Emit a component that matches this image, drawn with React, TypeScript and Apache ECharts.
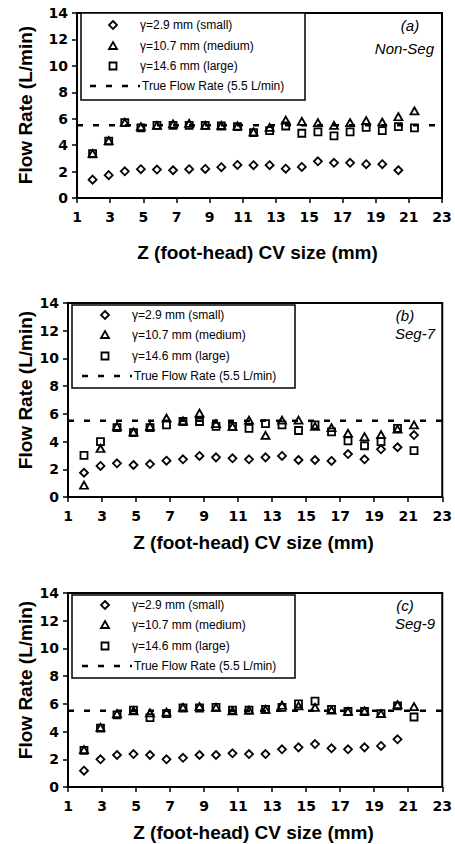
import React, { useEffect, useRef } from "react";
import * as echarts from "echarts";

// CV sizes along Z (mm)
const xCV = [1.94, 2.91, 3.88, 4.85, 5.82, 6.79, 7.76, 8.73, 9.70, 10.67, 11.64, 12.61, 13.58, 14.55, 15.52, 16.49, 17.46, 18.43, 19.40, 20.37, 21.34];
const xTickLabels = [1, 3, 5, 7, 9, 11, 13, 15, 17, 19, 21, 23];
const yTickLabels = [0, 2, 4, 6, 8, 10, 12, 14];

const seriesNames = ["γ=2.9 mm (small)", "γ=10.7 mm (medium)", "γ=14.6 mm (large)"];
const trueRateName = "True Flow Rate (5.5 L/min)";
const trueRate = 5.5;
const panelTags = ["(a)", "(b)", "(c)"];
const panelMethods = ["Non-Seg", "Seg-7", "Seg-9"];
const xTitle = "Z (foot-head) CV size (mm)";
const yTitle = "Flow Rate (L/min)";

// (a) Non-Seg
const aSmall = [1.39, 1.73, 2.02, 2.18, 2.15, 2.1, 2.18, 2.2, 2.33, 2.5, 2.48, 2.48, 2.22, 2.35, 2.78, 2.66, 2.66, 2.56, 2.56, 2.1];
const aMedium = [3.38, 4.34, 5.73, 5.4, 5.5, 5.6, 5.65, 5.5, 5.5, 5.45, 5.0, 5.35, 5.9, 5.8, 5.7, 5.5, 5.7, 5.85, 5.75, 6.15, 6.6];
const aLarge = [3.35, 4.3, 5.7, 5.3, 5.5, 5.5, 5.5, 5.5, 5.45, 5.4, 4.95, 5.1, 5.45, 4.9, 5.0, 4.7, 5.0, 5.35, 5.1, 5.4, 5.3];
// (b) Seg-7
const bSmall = [1.75, 2.24, 2.43, 2.31, 2.38, 2.62, 2.72, 2.96, 2.86, 2.79, 2.72, 2.86, 2.96, 2.67, 2.67, 2.6, 3.1, 2.72, 3.44, 3.59, 4.47];
const bMedium = [0.85, 3.5, 5.1, 4.7, 5.1, 5.7, 5.5, 6.05, 5.3, 5.1, 5.55, 4.45, 5.55, 5.55, 5.1, 5.0, 4.6, 4.35, 4.5, 4.9, 5.2];
const bLarge = [3.0, 4.0, 5.0, 4.65, 5.0, 5.2, 5.45, 5.45, 5.1, 5.1, 4.95, 5.3, 5.2, 4.8, 5.2, 4.7, 4.05, 3.7, 4.0, 4.95, 3.35];
// (c) Seg-9
const cSmall = [1.18, 2.0, 2.31, 2.38, 2.31, 2.0, 2.11, 2.31, 2.31, 2.43, 2.38, 2.38, 2.72, 2.86, 3.1, 2.79, 2.72, 2.86, 2.96, 3.44];
const cMedium = [2.7, 4.3, 5.3, 5.5, 5.35, 5.4, 5.75, 5.8, 5.75, 5.5, 5.55, 5.6, 5.9, 5.85, 5.75, 5.55, 5.45, 5.5, 5.3, 5.95, 5.8];
const cLarge = [2.65, 4.25, 5.2, 5.55, 5.0, 5.3, 5.7, 5.7, 5.75, 5.55, 5.55, 5.6, 5.75, 6.0, 6.2, 5.6, 5.45, 5.45, 5.3, 5.85, 5.05];

const panelData = [
  [aSmall, aMedium, aLarge],
  [bSmall, bMedium, bLarge],
  [cSmall, cMedium, cLarge],
];

const FONT = '"Liberation Sans", Arial, sans-serif';
const TICK_FONT = '"DejaVu Sans", sans-serif';
const symbols = ["diamond", "triangle", "rect"];
const symbolSizes: any[] = [[8, 8], [8, 7], [7, 7]];

const layouts = [
  { left: 77, top: 13, width: 365, height: 185, yTitle: [25, 105], xTitleY: 252,
    legend: { x: 81, y: 13, w: 224, h: 87, symX: 113, textX: 140, dash: [90, 140], rows: [25, 46, 66, 86] },
    tag: [410, 25], method: [434, 48] },
  { left: 68, top: 303, width: 375, height: 194, yTitle: [25, 390], xTitleY: 542,
    legend: { x: 72, y: 305, w: 223, h: 83, symX: 105, textX: 132, dash: [82, 132], rows: [315, 335, 356, 376] },
    tag: [405, 315], method: [435, 333] },
  { left: 68, top: 593, width: 375, height: 194, yTitle: [25, 680], xTitleY: 832,
    legend: { x: 72, y: 595, w: 223, h: 83, symX: 105, textX: 132, dash: [82, 132], rows: [605, 625, 646, 666] },
    tag: [405, 605], method: [435, 623] },
];

function txt(text: string, x: number, y: number, font: string, align = "left", extra: any = {}) {
  return {
    type: "text",
    x, y,
    ...extra,
    style: { text, font, fill: "#000", align, verticalAlign: "middle", textAlign: align, textVerticalAlign: "middle" },
  };
}

function legendGraphics(L: any) {
  const g: any[] = [];
  g.push({ type: "rect", shape: { x: L.x, y: L.y, width: L.w, height: L.h }, style: { fill: "#fff", stroke: "#000", lineWidth: 1.5 }, z: 10 });
  const sx = L.symX;
  const [r0, r1, r2, r3] = L.rows;
  const st = { fill: "none", stroke: "#000", lineWidth: 1.8 };
  g.push({ type: "polygon", shape: { points: [[sx, r0 - 4], [sx + 4, r0], [sx, r0 + 4], [sx - 4, r0]] }, style: st, z: 11 });
  g.push({ type: "polygon", shape: { points: [[sx, r1 - 4], [sx + 4, r1 + 3], [sx - 4, r1 + 3]] }, style: st, z: 11 });
  g.push({ type: "rect", shape: { x: sx - 3.5, y: r2 - 3.5, width: 7, height: 7 }, style: st, z: 11 });
  g.push({ type: "line", shape: { x1: L.dash[0], y1: r3, x2: L.dash[1], y2: r3 }, style: { stroke: "#000", lineWidth: 2.5, lineDash: [6, 10] }, z: 11 });
  const f = `12px ${FONT}`;
  g.push({ ...txt(seriesNames[0], L.textX, r0, f), z: 11 });
  g.push({ ...txt(seriesNames[1], L.textX, r1, f), z: 11 });
  g.push({ ...txt(seriesNames[2], L.textX, r2, f), z: 11 });
  g.push({ ...txt(trueRateName, L.textX + 2, r3, f), z: 11 });
  return g;
}

export default function App() {
  const ref = useRef<HTMLDivElement>(null);
  useEffect(() => {
    if (!ref.current) return;
    const chart = echarts.init(ref.current, undefined, { renderer: "svg" });
    const grids: any[] = [];
    const xAxes: any[] = [];
    const yAxes: any[] = [];
    const series: any[] = [];
    let graphics: any[] = [];
    layouts.forEach((lay, p) => {
      grids.push({ left: lay.left, top: lay.top, width: lay.width, height: lay.height, show: true, borderColor: "#000", borderWidth: 2, backgroundColor: "transparent" });
      xAxes.push({
        type: "value", gridIndex: p, min: xTickLabels[0], max: xTickLabels[xTickLabels.length - 1],
        axisLine: { onZero: false, lineStyle: { color: "#000", width: 2 } },
        axisTick: { show: true, length: 5, customValues: xTickLabels, lineStyle: { color: "#000", width: 1.5 } },
        axisLabel: { customValues: xTickLabels, fontFamily: TICK_FONT, fontWeight: "bold", fontSize: 14, color: "#000", margin: 12 },
        splitLine: { show: false },
      });
      yAxes.push({
        type: "value", gridIndex: p, min: yTickLabels[0], max: yTickLabels[yTickLabels.length - 1], interval: 2,
        axisLine: { show: true, onZero: false, lineStyle: { color: "#000", width: 2 } },
        axisTick: { show: true, length: 5, lineStyle: { color: "#000", width: 1.5 } },
        axisLabel: { fontFamily: TICK_FONT, fontWeight: "bold", fontSize: 14, color: "#000", margin: 9 },
        splitLine: { show: false },
      });
      panelData[p].forEach((arr, s) => {
        series.push({
          type: "scatter", name: seriesNames[s], xAxisIndex: p, yAxisIndex: p,
          symbol: symbols[s], symbolSize: symbolSizes[s],
          itemStyle: { color: "rgba(0,0,0,0)", borderColor: "#000", borderWidth: 1.8, opacity: 1 },
          data: arr.map((v, i) => [xCV[i], v]),
          z: 3,
        });
      });
      series.push({
        type: "line", name: trueRateName, xAxisIndex: p, yAxisIndex: p, symbol: "none",
        lineStyle: { color: "#000", width: 2.5, type: [6, 10] },
        data: [[xTickLabels[0], trueRate], [xTickLabels[xTickLabels.length - 1], trueRate]],
        z: 2,
      });
      graphics = graphics.concat(legendGraphics(lay.legend));
      graphics.push(txt(panelTags[p], lay.tag[0], lay.tag[1], `italic 15px ${FONT}`, "center"));
      graphics.push(txt(panelMethods[p], lay.method[0], lay.method[1], `italic 15px ${FONT}`, "right"));
      graphics.push(txt(xTitle, (lay.left + lay.left + lay.width) / 2 - 2, lay.xTitleY, `bold 19px ${FONT}`, "center"));
      graphics.push(txt(yTitle, lay.yTitle[0], lay.yTitle[1], `bold 19px ${FONT}`, "center", { rotation: Math.PI / 2 }));
    });
    chart.setOption({
      animation: false,
      backgroundColor: "#fff",
      grid: grids,
      xAxis: xAxes,
      yAxis: yAxes,
      series,
      graphic: { elements: graphics },
    });
    return () => chart.dispose();
  }, []);
  return <div ref={ref} style={{ position: "fixed", left: 0, top: 0, width: 455, height: 844 }} />;
}
